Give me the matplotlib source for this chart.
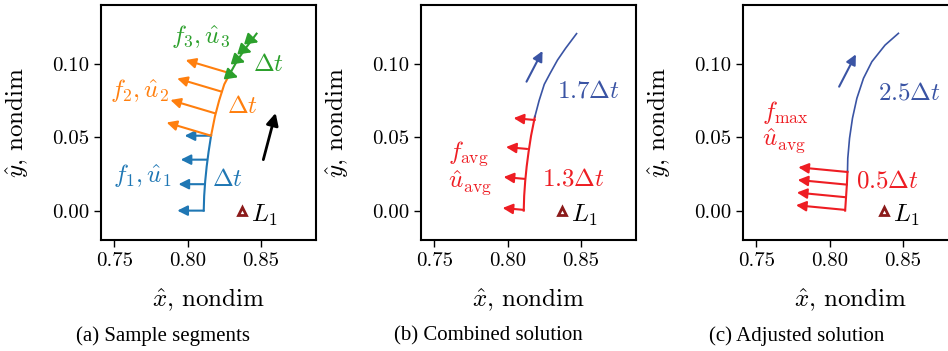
import numpy as np
import matplotlib
matplotlib.use('Agg')
import matplotlib.pyplot as plt

plt.rcParams['font.family'] = 'serif'
plt.rcParams['font.serif'] = ['cmr10']
plt.rcParams['mathtext.fontset'] = 'cm'
plt.rcParams['axes.formatter.use_mathtext'] = True

# trajectory used in panels (a) and (b)
path_x = [0.8110, 0.8113, 0.8120, 0.8130, 0.8143, 0.8160, 0.8186, 0.8215, 0.8250,
          0.8290, 0.8340, 0.8395, 0.8440, 0.8470]
path_y = [0.000, 0.010, 0.020, 0.030, 0.040, 0.051, 0.0640, 0.0750, 0.0860,
          0.0935, 0.1025, 0.1105, 0.1165, 0.1205]
seg_breaks_a = [0, 5, 9, 13]   # blue / orange / green
seg_break_b = 6                # red / blue

# trajectory used in panel (c)
path_c_x = [0.8106, 0.8112, 0.8118, 0.8122, 0.8124, 0.8136, 0.8156, 0.8186, 0.8231,
            0.8288, 0.8378, 0.8469]
path_c_y = [0.000, 0.009, 0.018, 0.0265, 0.0356, 0.0493, 0.0629, 0.0765, 0.0901,
            0.1014, 0.1127, 0.1207]
seg_break_c = 3

# thrust arrows: tails and vectors
u1_tail_x = [0.8110, 0.8118, 0.8133, 0.8160]
u1_tail_y = [0.000, 0.018, 0.0347, 0.051]
u1_vec = (-0.0180, 0.0)
u2_tail_x = [0.8160, 0.8186, 0.8232, 0.8290]
u2_tail_y = [0.051, 0.0663, 0.0810, 0.0935]
u2_vec = (-0.0303, 0.0090)
u3_tail_x = [0.8297, 0.8345, 0.8390, 0.8436]
u3_tail_y = [0.0923, 0.1025, 0.1093, 0.1161]
u3_vec = (0.0048, -0.0015)
uavg_b_tail_x = [0.8111, 0.8118, 0.8134, 0.8186]
uavg_b_tail_y = [0.0005, 0.0216, 0.0420, 0.0617]
uavg_b_vec = (-0.0145, 0.0013)
uavg_c_tail_x = [0.8106, 0.8112, 0.8118, 0.8122]
uavg_c_tail_y = [0.0005, 0.0091, 0.0177, 0.0263]
uavg_c_vec = (-0.0335, 0.0032)

# direction-of-motion arrows (tail, head)
dir_a = [(0.8516, 0.0347), (0.8600, 0.0665)]
dir_b = [(0.8129, 0.0878), (0.8238, 0.1087)]
dir_c = [(0.8065, 0.0844), (0.8179, 0.1064)]

L1_x = 0.8369
L1_y = 0.0

xticks = [0.75, 0.80, 0.85]
yticks = [0.00, 0.05, 0.10]
captions = ['(a) Sample segments', '(b) Combined solution', '(c) Adjusted solution']

c_blue, c_orange, c_green = '#1f77b4', '#ff7f0e', '#2ca02c'
c_red, c_navy = '#ee1d23', '#3a54a4'
c_L1 = '#8b1a1a'

fig = plt.figure(figsize=(9.48, 3.51), dpi=100)
W, H = 948, 351
lefts = [101, 421, 743]
axs = [fig.add_axes([l / W, 1 - 240 / H, 215 / W, 235 / H]) for l in lefts]


def arrows(ax, xs, ys, vec, color, lw=1.5, ms=10):
    for x, y in zip(xs, ys):
        ax.annotate('', xy=(x + vec[0], y + vec[1]), xytext=(x, y),
                    arrowprops=dict(arrowstyle='-|>,head_length=0.6,head_width=0.3',
                                    color=color, lw=lw, mutation_scale=ms,
                                    shrinkA=0, shrinkB=0))


def common(ax, cap, cap_x):
    ax.set_xlim(0.741, 0.8875)
    ax.set_ylim(-0.02, 0.14)
    ax.set_xticks(xticks)
    ax.set_yticks(yticks)
    ax.set_xticklabels(['%.2f' % v for v in xticks])
    ax.set_yticklabels(['%.2f' % v for v in yticks])
    ax.tick_params(labelsize=15, length=5, width=1.0, direction='out')
    for s in ax.spines.values():
        s.set_linewidth(1.5)
    ax.set_xlabel(r'$\hat{x}$, nondim', fontsize=18)
    ax.set_ylabel(r'$\hat{y}$, nondim', fontsize=18)
    ax.xaxis.set_label_coords(0.5, -0.20)
    ax.yaxis.set_label_coords(-0.33, 0.5)
    ax.plot([L1_x], [L1_y], marker='^', ms=6, mfc='white', mec=c_L1, mew=2, ls='none')
    ax.text(L1_x + 0.006, L1_y - 0.003, r'$L_1$', fontsize=18, ha='left', va='center')
    fig.text(cap_x / W, 1 - 336 / H, cap, family='Liberation Serif', fontsize=15,
             ha='center', va='center')


# (a)
ax = axs[0]
seg_cols = [c_blue, c_orange, c_green]
for i, col in enumerate(seg_cols):
    s, e = seg_breaks_a[i], seg_breaks_a[i + 1] + 1
    ax.plot(path_x[s:e], path_y[s:e], color=col, lw=1.5)
arrows(ax, u1_tail_x, u1_tail_y, u1_vec, c_blue)
arrows(ax, u2_tail_x, u2_tail_y, u2_vec, c_orange)
arrows(ax, u3_tail_x, u3_tail_y, u3_vec, c_green, ms=12)
ax.annotate('', xy=dir_a[1], xytext=dir_a[0],
            arrowprops=dict(arrowstyle='-|>,head_length=0.6,head_width=0.3', color='black',
                            lw=2, mutation_scale=12, shrinkA=0, shrinkB=0))
ax.text(0.789, 0.1186, r'$f_3,\hat{u}_3$', color=c_green, fontsize=18, ha='left', va='center')
ax.text(0.8447, 0.0991, r'$\Delta t$', color=c_green, fontsize=18, ha='left', va='center')
ax.text(0.7471, 0.0821, r'$f_2,\hat{u}_2$', color=c_orange, fontsize=18, ha='left', va='center')
ax.text(0.8266, 0.0707, r'$\Delta t$', color=c_orange, fontsize=18, ha='left', va='center')
ax.text(0.7493, 0.0238, r'$f_1,\hat{u}_1$', color=c_blue, fontsize=18, ha='left', va='center')
ax.text(0.8168, 0.0209, r'$\Delta t$', color=c_blue, fontsize=18, ha='left', va='center')
common(ax, captions[0], 163)

# (b)
ax = axs[1]
ax.plot(path_x[:seg_break_b + 1], path_y[:seg_break_b + 1], color=c_red, lw=1.5)
ax.plot(path_x[seg_break_b:], path_y[seg_break_b:], color=c_navy, lw=1.2)
arrows(ax, uavg_b_tail_x, uavg_b_tail_y, uavg_b_vec, c_red)
ax.annotate('', xy=dir_b[1], xytext=dir_b[0],
            arrowprops=dict(arrowstyle='-|>,head_length=0.6,head_width=0.3', color=c_navy,
                            lw=1.5, mutation_scale=10, shrinkA=0, shrinkB=0))
ax.text(0.7595, 0.029, '$f_\\mathrm{avg}$\n$\\hat{u}_\\mathrm{avg}$', color=c_red,
        fontsize=18, ha='left', va='center', linespacing=1.0)
ax.text(0.8334, 0.081, r'$1.7\Delta t$', color=c_navy, fontsize=18, ha='left', va='center')
ax.text(0.8232, 0.021, r'$1.3\Delta t$', color=c_red, fontsize=18, ha='left', va='center')
common(ax, captions[1], 488)

# (c)
ax = axs[2]
ax.plot(path_c_x[:seg_break_c + 1], path_c_y[:seg_break_c + 1], color=c_red, lw=1.5)
ax.plot(path_c_x[seg_break_c:], path_c_y[seg_break_c:], color=c_navy, lw=1.2)
arrows(ax, uavg_c_tail_x, uavg_c_tail_y, uavg_c_vec, c_red)
ax.annotate('', xy=dir_c[1], xytext=dir_c[0],
            arrowprops=dict(arrowstyle='-|>,head_length=0.6,head_width=0.3', color=c_navy,
                            lw=1.5, mutation_scale=10, shrinkA=0, shrinkB=0))
ax.text(0.754, 0.057, '$f_\\mathrm{max}$\n$\\hat{u}_\\mathrm{avg}$', color=c_red,
        fontsize=18, ha='left', va='center', linespacing=1.0)
ax.text(0.8333, 0.0799, r'$2.5\Delta t$', color=c_navy, fontsize=18, ha='left', va='center')
ax.text(0.8179, 0.0197, r'$0.5\Delta t$', color=c_red, fontsize=18, ha='left', va='center')
common(ax, captions[2], 797)

fig.savefig('out.png', dpi=100)
